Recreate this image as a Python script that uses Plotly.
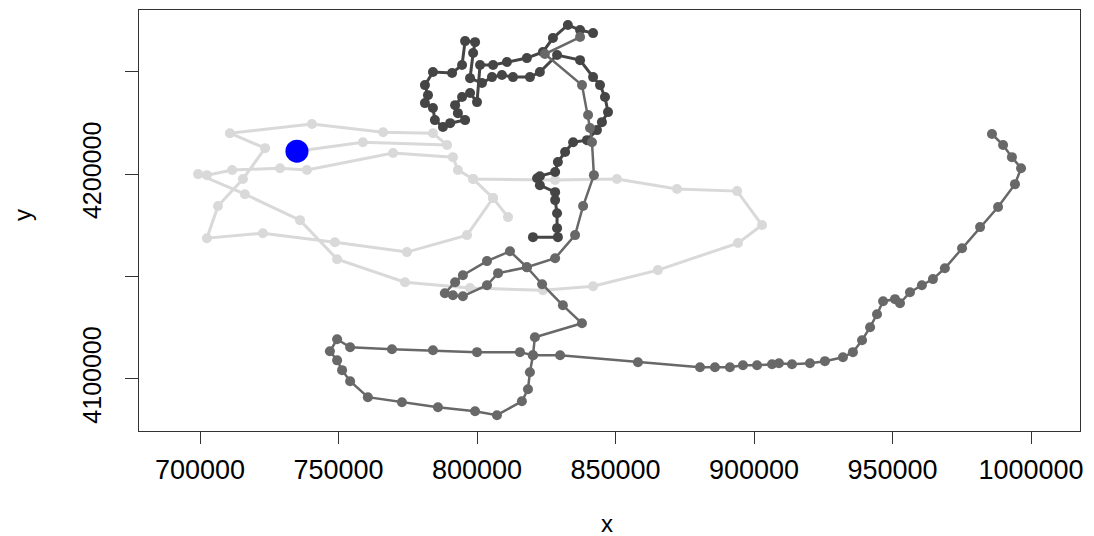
import numpy as np
import plotly.graph_objects as go

# Track positions (km); converted to metres below
light_x = [735.0, 758.8, 789.2, 784.1, 766.1, 740.4, 710.8, 723.5, 715.5, 706.5, 702.5, 722.7,
           748.7, 774.7, 796.4, 805.8, 798.6, 828.2, 850.5, 872.2, 893.9, 902.9, 894.2, 865.3,
           841.9, 823.8, 797.5, 774.0, 749.5, 736.1, 716.2, 699.3, 702.5, 711.6, 728.9, 738.6,
           769.7, 791.3, 793.1, 798.6, 805.8, 811.2]
light_y = [4211.2, 4215.6, 4214.2, 4220.0, 4220.5, 4224.5, 4220.0, 4212.7, 4197.6, 4184.4, 4168.7, 4171.1,
           4166.7, 4161.9, 4170.2, 4188.3, 4197.6, 4197.1, 4197.6, 4192.7, 4191.7, 4175.1, 4166.3, 4153.1,
           4145.2, 4143.3, 4144.3, 4147.2, 4158.4, 4177.5, 4190.2, 4200.0, 4199.5, 4202.0, 4202.9, 4202.0,
           4210.3, 4208.3, 4202.0, 4197.6, 4188.3, 4179.0]

dark_x = [820.2, 829.2, 828.9, 828.9, 828.2, 828.2, 822.7, 821.7, 822.7, 828.2, 829.2, 831.8,
          834.7, 839.7, 843.3, 845.1, 847.3, 846.2, 844.4, 841.9, 837.2, 828.9, 822.7, 819.1,
          813.0, 809.0, 805.4, 801.8, 797.5, 798.6, 799.3, 795.7, 794.6, 791.0, 784.1, 781.2,
          782.3, 781.2, 784.1, 784.8, 787.7, 790.3, 795.7, 793.1, 792.1, 794.6, 797.5, 800.0,
          801.1, 805.8, 810.8, 818.0, 823.8, 827.4, 832.8, 837.2, 841.9]
dark_y = [4169.2, 4169.2, 4173.6, 4180.9, 4187.3, 4191.2, 4194.6, 4198.0, 4199.0, 4201.0, 4205.9, 4210.8,
          4215.6, 4216.6, 4221.5, 4225.4, 4230.3, 4237.7, 4243.5, 4247.4, 4255.7, 4258.2, 4249.9, 4247.4,
          4247.4, 4248.4, 4247.4, 4244.5, 4246.9, 4259.2, 4264.5, 4265.0, 4253.3, 4249.4, 4249.9, 4243.5,
          4238.6, 4234.7, 4232.3, 4226.4, 4223.0, 4224.9, 4226.4, 4229.8, 4233.7, 4237.7, 4239.6, 4235.2,
          4253.3, 4253.3, 4254.8, 4256.7, 4259.7, 4266.5, 4272.9, 4270.4, 4268.9]

mid_x = [837.2, 824.5, 837.9, 840.1, 840.8, 841.5, 842.2, 838.3, 835.4, 828.2, 818.0, 807.6,
         803.6, 794.9, 791.3, 788.4, 792.1, 794.9, 803.6, 811.9, 818.0, 823.5, 831.0, 837.9,
         820.9, 820.2, 819.1, 818.4, 816.2, 807.2, 799.3, 785.9, 772.9, 760.6, 754.2, 751.3,
         749.5, 746.9, 749.5, 754.2, 769.3, 784.1, 800.0, 815.5, 820.2, 830.0, 858.1, 880.5,
         885.9, 891.3, 896.0, 901.1, 906.5, 909.0, 913.7, 920.2, 925.6, 932.1, 935.7, 939.0,
         941.9, 944.4, 946.6, 950.9, 952.7, 956.3, 960.6, 964.6, 968.9, 975.1, 981.6, 988.1,
         994.2, 996.4, 993.1, 989.9, 985.9]
mid_y = [4267.0, 4258.7, 4243.5, 4228.9, 4222.5, 4215.6, 4199.5, 4184.4, 4170.2, 4158.9, 4154.5, 4151.6,
         4145.7, 4140.3, 4140.8, 4141.8, 4147.2, 4150.6, 4157.5, 4162.3, 4154.5, 4146.2, 4135.9, 4127.1,
         4120.3, 4111.5, 4103.2, 4094.9, 4089.0, 4082.2, 4084.1, 4086.1, 4088.5, 4091.0, 4098.8, 4104.2,
         4109.0, 4113.4, 4119.3, 4115.4, 4114.4, 4113.9, 4113.0, 4113.0, 4111.5, 4111.5, 4108.1, 4105.6,
         4105.6, 4105.6, 4106.6, 4106.6, 4107.1, 4107.6, 4107.1, 4107.6, 4108.6, 4110.5, 4113.0, 4118.8,
         4125.2, 4131.5, 4137.9, 4138.9, 4136.9, 4142.3, 4145.7, 4148.7, 4154.0, 4163.8, 4174.1, 4183.9,
         4195.1, 4202.9, 4208.3, 4214.2, 4219.6]

current_x = [735.0]
current_y = [4211.2]

x_ticks = [700000, 750000, 800000, 850000, 900000, 950000, 1000000]
y_ticks = [4100000, 4150000, 4200000, 4250000]
y_ticktext = ["4100000", "", "4200000", ""]

def m(v):
    return np.array(v) * 1000.0

fig = go.Figure()
for xs, ys, col, lw in [(light_x, light_y, "#D9D9D9", 3),
                        (dark_x, dark_y, "#454545", 3),
                        (mid_x, mid_y, "#686868", 2.5)]:
    fig.add_trace(go.Scatter(x=m(xs), y=m(ys), mode="lines+markers",
                             line=dict(color=col, width=lw),
                             marker=dict(color=col, size=10, line=dict(width=0)),
                             showlegend=False, hoverinfo="skip"))
fig.add_trace(go.Scatter(x=m(current_x), y=m(current_y), mode="markers",
                         marker=dict(color="#0000FF", size=23, line=dict(width=0)),
                         showlegend=False))

font = dict(family="Liberation Sans, Arial, sans-serif", color="#000000")
# page has an 8px body margin, so the figure is 8px smaller than the window
W, H = 1086, 528
L, R, T, B = 131, 14, 2, 105
pw, ph = W - L - R, H - T - B
fig.update_layout(
    width=W, height=H,
    margin=dict(l=L, r=R, t=T, b=B, autoexpand=False),
    paper_bgcolor="white", plot_bgcolor="white",
    font=font,
    xaxis=dict(range=[677980, 1017680], tickvals=x_ticks,
               ticktext=[str(v) for v in x_ticks], automargin=False,
               ticks="outside", ticklen=12, tickwidth=1, tickcolor="#333",
               showline=True, linecolor="#333", linewidth=1, mirror=True,
               showgrid=False, zeroline=False,
               tickfont=dict(size=27, **font), ticklabelstandoff=3),
    yaxis=dict(range=[4074470, 4280200], tickvals=y_ticks, ticktext=y_ticktext,
               automargin=False,
               ticks="outside", ticklen=13, tickwidth=1, tickcolor="#333",
               showline=True, linecolor="#333", linewidth=1, mirror=True,
               showgrid=False, zeroline=False, tickangle=-90,
               tickfont=dict(size=25, **font), ticklabelstandoff=14),
    annotations=[
        dict(text="x", x=(599 - L) / pw, y=-(515 - (T + ph)) / ph, xref="paper", yref="paper",
             showarrow=False, font=dict(size=24, **font), xanchor="center", yanchor="middle"),
        dict(text="y", x=-(L - 15) / pw, y=(T + ph - 207) / ph, xref="paper", yref="paper",
             showarrow=False, font=dict(size=24, **font), textangle=-90,
             xanchor="center", yanchor="middle"),
    ],
)
fig.write_html("out.html")
